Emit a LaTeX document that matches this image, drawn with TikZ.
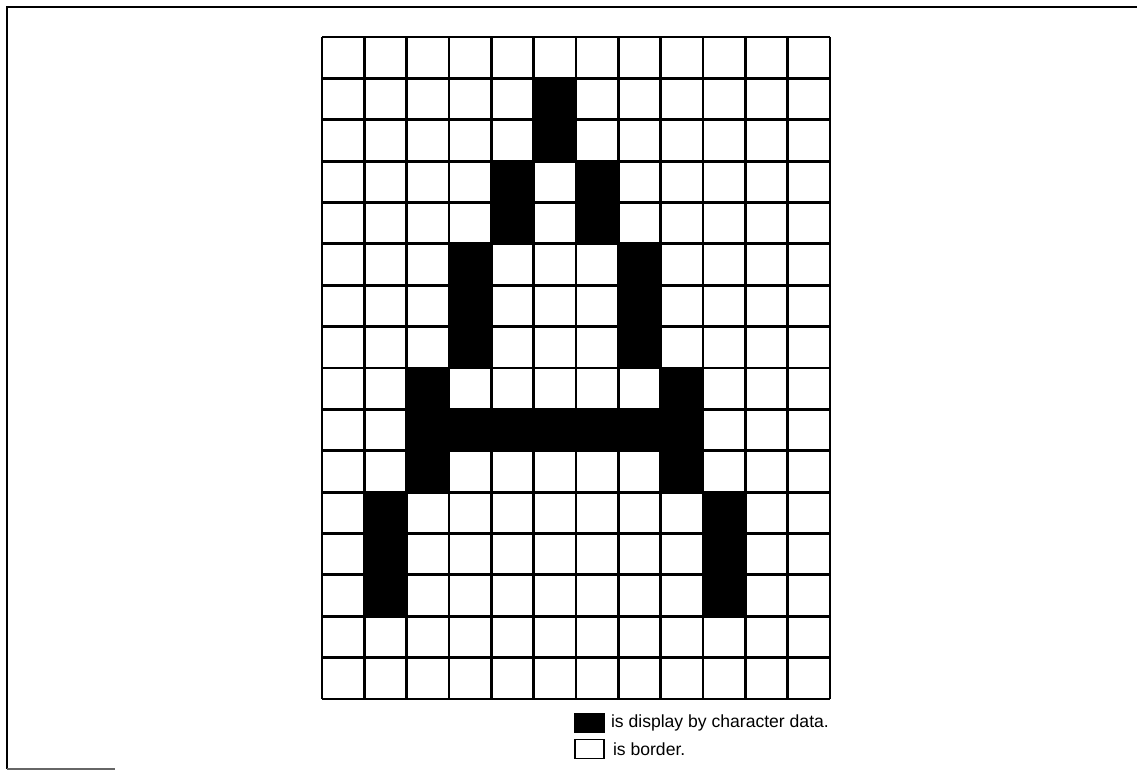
\documentclass[tikz,border=0pt]{standalone}
\usepackage{fontspec}
\setmainfont{Liberation Sans}
\usetikzlibrary{positioning}

\tikzset{
  gridline/.style={line width=1.6pt, line cap=square},
  keybox/.style={draw, line width=0.8pt, minimum width=0.58cm, minimum height=0.38cm, inner sep=0pt},
  keytext/.style={inner sep=0pt, anchor=west}
}

\begin{document}
\begin{tikzpicture}[x=0.02cm, y=-0.02cm]
\useasboundingbox (0,0) rectangle (1137,771);
% frame
\draw[line width=1.2pt] (1137,7) -- (7,7) -- (7,769);
\draw[line width=0.6pt, black!60] (7,769) -- (115,769);
% character data
\foreach \r/\c in {1/5, 2/5, 3/4, 3/6, 4/4, 4/6, 5/3, 5/7, 6/3, 6/7, 7/3, 7/7,
    8/2, 8/8, 9/2, 9/3, 9/4, 9/5, 9/6, 9/7, 9/8, 10/2, 10/8,
    11/1, 11/9, 12/1, 12/9, 13/1, 13/9}
  \fill (322+\c*42.333, 37+\r*41.375) rectangle +(42.333,41.375);
% grid
\foreach \i in {0,...,12}
  \draw[gridline] (322+\i*42.333,37) -- (322+\i*42.333,699);
\foreach \j in {0,...,16}
  \draw[gridline] (322,37+\j*41.375) -- (830,37+\j*41.375);
% legend
\node[keybox, fill=black] (datakey) at (589.5,723) {};
\node[keybox, fill=white] (borderkey) at (589.5,749) {};
\node[keytext, right=0.12cm of datakey] (datatext) {is display by character data.};
\node[keytext, right=0.16cm of borderkey] (bordertext) {is border.};
\end{tikzpicture}
\end{document}
